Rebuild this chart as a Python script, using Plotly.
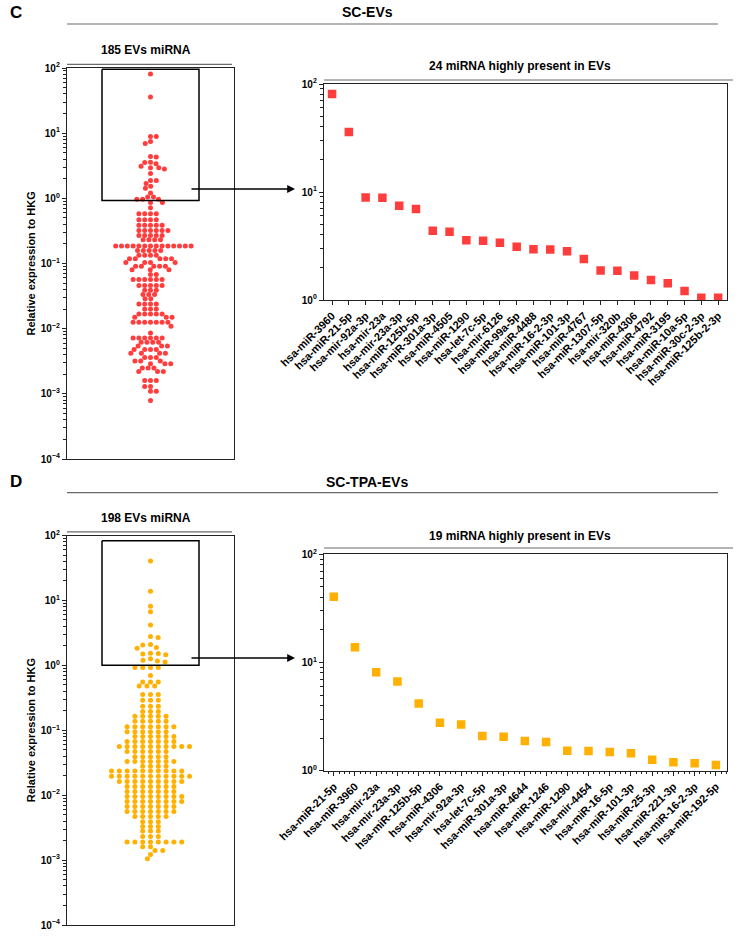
import math
import plotly.graph_objects as go

W, H = 738, 939

# ---------------- data ----------------
c_top_labels = ["hsa-miR-3960", "hsa-miR-21-5p", "hsa-mir-92a-3p", "hsa-mir-23a", "hsa-mir-23a-3p",
                "hsa-miR-125b-5p", "hsa-miR-301a-3p", "hsa-miR-4505", "hsa-miR-1290", "hsa-let-7c-5p",
                "hsa-mir-6126", "hsa-miR-99a-5p", "hsa-miR-4488", "hsa-miR-16-2-3p", "hsa-miR-101-3p",
                "hsa-miR-4767", "hsa-miR-1307-5p", "hsa-mir-320b", "hsa-miR-4306", "hsa-miR-4792",
                "hsa-miR-3195", "hsa-miR-10a-5p", "hsa-miR-30c-2-3p", "hsa-miR-125b-2-3p"]
c_top_vals = [80.8, 36.0, 8.9, 8.85, 7.45, 6.95, 4.38, 4.29, 3.57, 3.54, 3.39, 3.12,
              2.95, 2.94, 2.82, 2.40, 1.88, 1.87, 1.69, 1.53, 1.43, 1.21, 1.05, 1.05]
c_low_levels = [0.97, 0.86, 0.72, 0.58, 0.47, 0.385, 0.322, 0.27, 0.231, 0.185,
                0.158, 0.134, 0.118, 0.104, 0.091, 0.080, 0.068, 0.057, 0.046, 0.039,
                0.0334, 0.0287, 0.024, 0.020, 0.0168, 0.0150, 0.0125, 0.0109, 0.0086, 0.0072,
                0.0062, 0.0054, 0.0048, 0.0042, 0.0036, 0.0032, 0.0029, 0.0025, 0.0022, 0.0016,
                0.0013, 0.0011, 0.00079]
c_low_counts = [3, 2, 1, 4, 4, 5, 6, 5, 4, 14,
                5, 4, 5, 4, 5, 3, 2, 6, 5, 3,
                3, 2, 4, 3, 5, 3, 7, 1, 1, 6,
                4, 3, 4, 4, 3, 3, 3, 3, 3, 3,
                2, 2, 1]

d_top_labels = ["hsa-miR-21-5p", "hsa-miR-3960", "hsa-mir-23a", "hsa-mir-23a-3p", "hsa-miR-125b-5p",
                "hsa-miR-4306", "hsa-mir-92a-3p", "hsa-let-7c-5p", "hsa-miR-301a-3p", "hsa-miR-4644",
                "hsa-miR-1246", "hsa-miR-1290", "hsa-mir-4454", "hsa-miR-16-5p", "hsa-miR-101-3p",
                "hsa-miR-25-3p", "hsa-miR-221-3p", "hsa-miR-16-2-3p", "hsa-miR-192-5p"]
d_top_vals = [40.5, 13.8, 8.13, 6.67, 4.18, 2.77, 2.68, 2.09, 2.06, 1.88,
              1.84, 1.53, 1.52, 1.49, 1.45, 1.26, 1.20, 1.17, 1.13]
d_low_levels = [0.93, 0.70, 0.555, 0.48, 0.355, 0.29, 0.235, 0.195, 0.165, 0.137,
                0.113, 0.095, 0.080, 0.067, 0.056, 0.047, 0.039, 0.033, 0.028, 0.0235,
                0.0195, 0.0163, 0.0136, 0.0114, 0.0095, 0.0080, 0.0067, 0.0056, 0.0047, 0.0039,
                0.0033, 0.0028, 0.0023, 0.0019, 0.0016, 0.0014, 0.00122, 0.00105]
d_low_counts = [4, 1, 3, 3, 3, 3, 3, 3, 5, 5,
                7, 6, 6, 7, 10, 6, 5, 7, 4, 10,
                11, 9, 7, 7, 8, 8, 7, 7, 5, 3,
                3, 3, 3, 8, 2, 2, 1, 1]

decade_ticks = [1e-4, 1e-3, 1e-2, 1e-1, 1, 10, 100]
decade_text = ["10<sup>−4</sup>", "10<sup>−3</sup>", "10<sup>−2</sup>", "10<sup>−1</sup>",
               "10<sup>0</sup>", "10<sup>1</sup>", "10<sup>2</sup>"]

C_RED = "#FF3D3D"
D_ORG = "#FFB000"
FONT = "Liberation Sans, Arial, sans-serif"


def expand(levels, counts):
    out = []
    for v, n in zip(levels, counts):
        out.extend([v] * n)
    return out


def swarm(values, sx, sy, decade_px):
    order = sorted(range(len(values)), key=lambda i: -values[i])
    placed = []
    xs = [0.0] * len(values)
    toggle = 1
    for i in order:
        y = math.log10(values[i]) * decade_px
        iv = []
        for (qx, qy) in placed:
            dy = abs(qy - y)
            if dy < sy:
                hw = sx * math.sqrt(1 - (dy / sy) ** 2)
                iv.append((qx - hw, qx + hw))
        cands = [0.0] + [a for a, b in iv] + [b for a, b in iv]
        valid = [c for c in cands if all(not (a + 1e-6 < c < b - 1e-6) for a, b in iv)]
        best = min(abs(c) for c in valid)
        ch = sorted(set(round(c, 6) for c in valid if abs(abs(c) - best) < 1e-6))
        if len(ch) > 1:
            c = ch[-1] if toggle > 0 else ch[0]
            toggle = -toggle
        else:
            c = ch[0]
        xs[i] = c
        placed.append((c, y))
    return xs


def px(x):
    return x / W


def py(y):
    return 1 - y / H


c_all = c_top_vals + expand(c_low_levels, c_low_counts)
d_all = d_top_vals + expand(d_low_levels, d_low_counts)
c_x = swarm(c_all, 5.8, 4.6, 65.2)
d_x = swarm(d_all, 7.8, 4.6, 64.9)

fig = go.Figure()

# left swarms
fig.add_trace(go.Scatter(x=c_x, y=c_all, mode="markers", xaxis="x", yaxis="y",
                         marker=dict(size=5, color=C_RED), hoverinfo="skip"))
fig.add_trace(go.Scatter(x=d_x, y=d_all, mode="markers", xaxis="x3", yaxis="y3",
                         marker=dict(size=5, color=D_ORG), hoverinfo="skip"))

# zoom boxes in left panels
fig.add_trace(go.Scatter(x=[-48.5, 48.5, 48.5, -48.5, -48.5], y=[96, 96, 0.93, 0.93, 96],
                         mode="lines", line=dict(color="black", width=1.5),
                         xaxis="x", yaxis="y", hoverinfo="skip"))
fig.add_trace(go.Scatter(x=[-48.5, 48.5, 48.5, -48.5, -48.5], y=[83, 83, 1.0, 1.0, 83],
                         mode="lines", line=dict(color="black", width=1.5),
                         xaxis="x3", yaxis="y3", hoverinfo="skip"))

# right panels
fig.add_trace(go.Scatter(x=list(range(len(c_top_vals))), y=c_top_vals, mode="markers",
                         xaxis="x2", yaxis="y2",
                         marker=dict(symbol="square", size=8.5, color=C_RED), hoverinfo="skip"))
fig.add_trace(go.Scatter(x=list(range(len(d_top_vals))), y=d_top_vals, mode="markers",
                         xaxis="x4", yaxis="y4",
                         marker=dict(symbol="square", size=8.5, color=D_ORG), hoverinfo="skip"))

LINE = "#222222"
tickfont = dict(family=FONT, size=10, color="black", weight="bold")
xtickfont = dict(family=FONT, size=11, color="black", weight="bold")


def yax(domain, rng, anchor, tv, tt, minor_vals):
    return dict(domain=domain, type="log", range=rng, anchor=anchor, automargin=False,
                tickmode="array", tickvals=tv, ticktext=tt,
                ticks="outside", ticklen=4, tickwidth=1.2, tickcolor=LINE,
                minor=dict(tickmode="array", tickvals=minor_vals, ticks="outside",
                           ticklen=2.5, tickwidth=1, tickcolor=LINE),
                showline=True, linecolor=LINE, linewidth=1.3, mirror=True,
                showgrid=False, zeroline=False, tickfont=tickfont)


def xleft(domain, anchor):
    return dict(domain=domain, range=[-83.5, 83.5], anchor=anchor, showticklabels=False,
                automargin=False, ticks="", showline=True, linecolor=LINE, linewidth=1.3,
                mirror=True, showgrid=False, zeroline=False)


def xright(domain, anchor, n, labels, lo, minor=None):
    d = dict(domain=domain, anchor=anchor, type="linear", range=[lo, n - 1 + 0.5],
             automargin=False, tickmode="array", tickvals=list(range(n)), ticktext=labels,
             tickangle=-45, ticks="outside", ticklen=4, tickwidth=1.2, tickcolor=LINE,
             showline=True, linecolor=LINE, linewidth=1.3, mirror=True,
             showgrid=False, zeroline=False, tickfont=xtickfont)
    if minor:
        d["minor"] = minor
    return d


minor_left = [k * 10 ** e for e in range(-4, 2) for k in range(2, 10)]
minor_right = [k * 10 ** e for e in range(0, 2) for k in range(2, 10)]

c_left_y = [1 - 459 / H, 1 - 68 / H]
d_left_y = [1 - 925 / H, 1 - 535.5 / H]
c_right_y = [1 - 300 / H, 1 - 84 / H]
d_right_y = [1 - 770.7 / H, 1 - 554.3 / H]
left_x = [67 / W, 234 / W]
right_x = [324 / W, 726.5 / W]

nC = len(c_top_vals)
nD = len(d_top_vals)

fig.update_layout(
    width=W, height=H, autosize=False,
    margin=dict(l=0, r=0, t=0, b=0, autoexpand=False),
    paper_bgcolor="white", plot_bgcolor="white",
    showlegend=False,
    xaxis=xleft(left_x, "y"),
    yaxis=yax(c_left_y, [-4, 2], "x", decade_ticks, decade_text, minor_left),
    xaxis3=xleft(left_x, "y3"),
    yaxis3=yax(d_left_y, [-4, 2], "x3", decade_ticks, decade_text, minor_left),
    xaxis2=xright(right_x, "y2", nC, c_top_labels, -0.48),
    yaxis2=yax(c_right_y, [0, 2], "x2", decade_ticks[4:], decade_text[4:], minor_right),
    xaxis4=xright(right_x, "y4", nD, d_top_labels, -0.46,
                  minor=dict(tickmode="linear", tick0=0, dtick=0.25, ticks="outside",
                             ticklen=2.5, tickwidth=1, tickcolor=LINE)),
    yaxis4=yax(d_right_y, [0, 2], "x4", decade_ticks[4:], decade_text[4:], minor_right),
)

shapes = []
GREY = "#6a6a6a"
for y in (24, 492.7):
    shapes.append(dict(type="line", xref="paper", yref="paper", x0=px(67), x1=px(718),
                       y0=py(y), y1=py(y), line=dict(color=GREY, width=1.2)))
for y in (64.3, 531.8):
    shapes.append(dict(type="line", xref="paper", yref="paper", x0=px(67), x1=px(232),
                       y0=py(y), y1=py(y), line=dict(color=GREY, width=1.2)))
for y in (80, 548):
    shapes.append(dict(type="line", xref="paper", yref="paper", x0=px(324), x1=px(733),
                       y0=py(y), y1=py(y), line=dict(color=GREY, width=1.2)))
fig.update_layout(shapes=shapes)

ann = []


def text(x, y, s, size, anchor="center"):
    ann.append(dict(x=px(x), y=py(y), xref="paper", yref="paper", text=s, showarrow=False,
                    xanchor=anchor, yanchor="middle",
                    font=dict(family=FONT, size=size, color="black", weight="bold")))


text(8, 13, "C", 17, "left")
text(8, 482, "D", 17, "left")
text(367, 12, "SC-EVs", 14)
text(367, 482, "SC-TPA-EVs", 14)
text(146, 50, "185 EVs miRNA", 12)
text(146, 518, "198 EVs miRNA", 12)
text(520, 66, "24 miRNA highly present in EVs", 12)
text(520, 536, "19 miRNA highly present in EVs", 12)
for yc in ((68 + 459) / 2, (535.5 + 925) / 2):
    ann.append(dict(x=px(31), y=py(yc), xref="paper", yref="paper",
                    text="Relative expression to HKG", showarrow=False, textangle=-90,
                    xanchor="center", yanchor="middle",
                    font=dict(family=FONT, size=11, color="black", weight="bold")))
for y in (189, 658):
    ann.append(dict(x=px(295), y=py(y), xref="paper", yref="paper", text="",
                    showarrow=True, ax=-105, ay=0, arrowhead=2, arrowsize=1.2,
                    arrowwidth=1.3, arrowcolor="black", standoff=0))
fig.update_layout(annotations=ann)

fig.write_html("out.html")
